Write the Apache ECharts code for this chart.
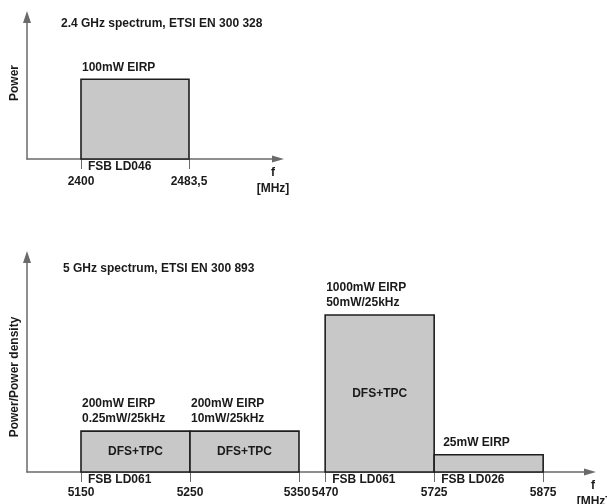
<!DOCTYPE html>
<html>
<head>
<meta charset="utf-8">
<script src="https://cdn.jsdelivr.net/npm/echarts@6/dist/echarts.min.js"></script>
<style>html,body{margin:0;padding:0;background:#fff}#c{width:607px;height:504px}</style>
</head>
<body>
<div id="c"></div>
<script>
// ---- 2.4 GHz band (ETSI EN 300 328) ----
const topTitle = '2.4 GHz spectrum, ETSI EN 300 328';
const topBandLo = [2400];
const topBandHi = [2483.5];
const topLevel = [100];                 // mW EIRP
const topPowerLabels = ['100mW EIRP'];
const topInnerLabels = [''];
const topDecisionLabels = ['FSB LD046'];
const topTickFreqs = [2400, 2483.5];
const topTickLabels = ['2400', '2483,5'];

// ---- 5 GHz band (ETSI EN 300 893) ----
const botTitle = '5 GHz spectrum, ETSI EN 300 893';
const botBandLo = [5150, 5250, 5470, 5725];
const botBandHi = [5250, 5350, 5725, 5875];
const botLevel = [19, 19, 73, 8];       // relative power / power density (schematic)
const botPowerLabels = ['200mW EIRP\n0.25mW/25kHz', '200mW EIRP\n10mW/25kHz', '1000mW EIRP\n50mW/25kHz', '25mW EIRP'];
const botInnerLabels = ['DFS+TPC', 'DFS+TPC', 'DFS+TPC', ''];
const botDecisionLabels = ['FSB LD061', '', 'FSB LD061', 'FSB LD026'];
const botTickFreqs = [5150, 5250, 5350, 5470, 5725, 5875];
const botTickLabels = ['5150', '5250', '5350', '5470', '5725', '5875'];

// Schematic (non-linear) frequency scale for the 5 GHz axis:
// every band takes one unit, a break between non-adjacent bands takes BREAK_GAP.
const BREAK_GAP = 0.24;
const botSlots = [0];
for (let i = 1; i < botTickFreqs.length; i++) {
  const a = botTickFreqs[i - 1], b = botTickFreqs[i];
  const isBand = botBandLo.some((lo, k) => lo === a && botBandHi[k] === b);
  botSlots.push(botSlots[i - 1] + (isBand ? 1 : BREAK_GAP));
}
function freqToSlot(f) {
  for (let i = 1; i < botTickFreqs.length; i++) {
    if (f <= botTickFreqs[i]) {
      const a = botTickFreqs[i - 1], b = botTickFreqs[i];
      return botSlots[i - 1] + (f - a) / (b - a) * (botSlots[i] - botSlots[i - 1]);
    }
  }
  return botSlots[botSlots.length - 1];
}

const FF = '"Liberation Sans", Arial, sans-serif';
const TXT = '#1a1a1a';
const AX = '#6a6a6a';

function makeRender(power, inner, fsb, powerShift) {
  return function (params, api) {
    const i = params.dataIndex;
    const b = api.coord([api.value(0), 0]);
    const t = api.coord([api.value(1), api.value(2)]);
    const x0 = b[0], y0 = b[1], x1 = t[0], yT = t[1];
    const kids = [{
      type: 'rect',
      shape: { x: x0, y: yT, width: x1 - x0, height: y0 - yT },
      style: { fill: '#c8c8c8', stroke: '#1e1e1e', lineWidth: 1.6 }
    }];
    const ts = { fontFamily: FF, fontSize: 12, fontWeight: 'bold', fill: TXT };
    if (inner[i]) kids.push({ type: 'text', style: Object.assign({ text: inner[i], x: (x0 + x1) / 2, y: (yT + y0) / 2, align: 'center', verticalAlign: 'middle' }, ts) });
    if (power[i]) kids.push({ type: 'text', style: Object.assign({ text: power[i], x: x0 + 1 + (powerShift ? powerShift(i) : 0), y: yT - 4.5, align: 'left', verticalAlign: 'bottom', lineHeight: 15 }, ts) });
    if (fsb[i]) kids.push({ type: 'text', style: Object.assign({ text: fsb[i], x: x0 + 7, y: y0 + 8, align: 'left', verticalAlign: 'middle' }, ts) });
    return { type: 'group', children: kids };
  };
}

const nameStyle = { fontFamily: FF, fontSize: 12, fontWeight: 'bold', color: TXT };
const lblStyle = { fontFamily: FF, fontSize: 12, fontWeight: 'bold', color: TXT };

function xAxisCommon(min, max, tickVals, fmt, margin, rich) {
  return {
    type: 'value', min: min, max: max,
    axisLine: { show: true, onZero: false, lineStyle: { color: AX, width: 1.5 }, symbol: ['none', 'triangle'], symbolSize: [7, 12], symbolOffset: [0, 0] },
    axisTick: { show: true, customValues: tickVals, length: 10, lineStyle: { color: AX, width: 1 } },
    axisLabel: Object.assign({ show: true, customValues: tickVals, formatter: fmt, margin: margin, rich: rich || {} }, lblStyle),
    splitLine: { show: false },
    name: 'f\n[MHz]', nameLocation: 'end', nameMoveOverlap: false,
    nameTextStyle: Object.assign({ align: 'center', verticalAlign: 'top', lineHeight: 16, padding: [6, 0, 0, 0] }, nameStyle)
  };
}
function yAxisCommon(max, name, pad) {
  return {
    type: 'value', min: 0, max: max,
    axisLine: { show: true, onZero: false, lineStyle: { color: AX, width: 1.5 }, symbol: ['none', 'triangle'], symbolSize: [8, 12] },
    axisTick: { show: false }, axisLabel: { show: false }, splitLine: { show: false },
    name: name, nameLocation: 'middle', nameGap: 6, nameMoveOverlap: false,
    nameTextStyle: Object.assign({ padding: pad }, nameStyle)
  };
}

const topXMin = 2400 - 54 / (108 / 83.5), topXMax = 2400 + 197 / (108 / 83.5);
const slotPx = 109;

const option = {
  backgroundColor: '#fff',
  animation: false,
  title: [
    { text: topTitle, left: 61, top: 18, padding: 0, textStyle: { fontFamily: FF, fontSize: 12, fontWeight: 'bold', color: TXT } },
    { text: botTitle, left: 63, top: 263, padding: 0, textStyle: { fontFamily: FF, fontSize: 12, fontWeight: 'bold', color: TXT } }
  ],
  grid: [
    { left: 27, top: 17, width: 251, height: 142, outerBoundsMode: 'none', containLabel: false },
    { left: 27, top: 257, width: 563, height: 215, outerBoundsMode: 'none', containLabel: false }
  ],
  xAxis: [
    Object.assign(xAxisCommon(topXMin, topXMax, topTickFreqs, v => topTickLabels[topTickFreqs.indexOf(v)] ?? '', 17), { gridIndex: 0, nameGap: -5 }),
    Object.assign(xAxisCommon(-54 / slotPx, 509 / slotPx, botSlots, v => {
      const k = botSlots.findIndex(s => Math.abs(s - v) < 1e-6);
      if (k < 0) return '';
      // label just before a break sits a little to the left
      const beforeBreak = k + 1 < botSlots.length && botSlots[k + 1] - botSlots[k] < 1;
      return beforeBreak ? '{l|' + botTickLabels[k] + '}' : botTickLabels[k];
    }, 15, { l: Object.assign({ padding: [0, 4, 0, 0] }, lblStyle) }), { gridIndex: 1, nameGap: 3 })
  ],
  yAxis: [
    Object.assign(yAxisCommon(178, 'Power', [0, 0, 0, 10]), { gridIndex: 0 }),
    Object.assign(yAxisCommon(100, 'Power/Power density', [0, 25, 0, 0]), { gridIndex: 1 })
  ],
  series: [
    {
      type: 'custom', xAxisIndex: 0, yAxisIndex: 0,
      encode: { x: [0, 1], y: 2 },
      data: topBandLo.map((lo, i) => [lo, topBandHi[i], topLevel[i]]),
      renderItem: makeRender(topPowerLabels, topInnerLabels, topDecisionLabels)
    },
    {
      type: 'custom', xAxisIndex: 1, yAxisIndex: 1,
      encode: { x: [0, 1], y: 2 },
      data: botBandLo.map((lo, i) => [freqToSlot(lo), freqToSlot(botBandHi[i]), botLevel[i]]),
      renderItem: makeRender(botPowerLabels, botInnerLabels, botDecisionLabels, i => (botInnerLabels[i] ? 0 : 8))
    }
  ]
};
const chart = echarts.init(document.getElementById('c'), null, { renderer: 'canvas' });
chart.setOption(option);
</script>
</body>
</html>
